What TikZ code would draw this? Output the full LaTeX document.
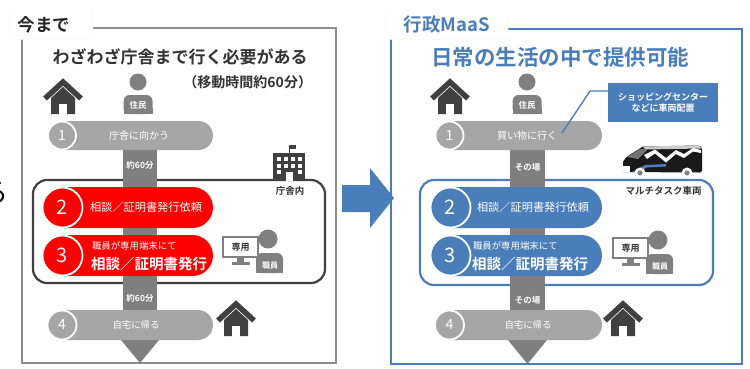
\documentclass[tikz,border=0pt]{standalone}
\usepackage{fontspec}
\setmainfont{Noto Sans CJK JP}[BoldFont={Noto Sans CJK JP Bold}]
\usetikzlibrary{shapes.misc}

\definecolor{stepgray}{HTML}{A6A6A6}
\definecolor{flowgray}{HTML}{7F7F7F}
\definecolor{icongray}{HTML}{808080}
\definecolor{housegray}{HTML}{404040}
\definecolor{inkdark}{HTML}{333333}
\definecolor{maasblue}{HTML}{4A7EBB}
\definecolor{alertred}{HTML}{FF0000}
\definecolor{framegray}{HTML}{8C8C8C}
\definecolor{tabline}{HTML}{F2F2F2}

\newcommand\pxfont[1]{\fontsize{#1}{#1}\selectfont}

\tikzset{
  pill/.style={rounded rectangle, minimum height=#1, draw=none},
  numdisc/.style={circle, draw=white, line width=1.8pt, text=white, minimum size=#1},
  steptext/.style={text=white, font=\pxfont{10}},
  flowlabel/.style={text=white, font=\bfseries\pxfont{8.5}},
  tabbox/.style={fill=white, draw=tabline, rounded corners=3pt, minimum width=#1, minimum height=29pt},
  housepic/.pic={
    \fill[housegray] (-12,34) -- (-12,18) -- (0,7) -- (12,18) -- (12,34) -- cycle;
    \draw[white, line width=2pt] (-19,21) -- (0,3.5) -- (19,21);
    \fill[white] (-4,24) rectangle (4,34.5);
    \draw[housegray, line width=5.5pt, miter limit=10] (-18,18.5) -- (0,2) -- (18,18.5);
  },
  personpic/.pic={
    \fill[icongray] (0,0) circle[radius=8.5];
    \fill[icongray, rounded corners=6pt] (-14.5,32) -- (-14.5,13) -- (14.5,13) -- (14.5,32) -- cycle;
    \fill[icongray] (-14.5,26) rectangle (14.5,32);
    \node[text=white, font=\bfseries\pxfont{8.5}] at (0,23) {\tikzpictext};
  },
  terminalpic/.pic={
    \fill[icongray] (45,2) circle[radius=9.5];
    \fill[icongray, rounded corners=6pt] (33,36) -- (33,16) -- (60,16) -- (60,36) -- cycle;
    \fill[icongray] (33,30) rectangle (60,36);
    \node[text=white, font=\bfseries\pxfont{8}] at (47,28) {職員};
    \draw[icongray, line width=2.6pt, fill=white] (0,0) rectangle (35,20);
    \fill[icongray] (14,20) rectangle (21,26);
    \fill[icongray] (9,25) rectangle (27,28);
    \node[text=inkdark, font=\bfseries\pxfont{9}] at (17.5,10) {専用};
  }
}

\begin{document}
\begin{tikzpicture}[x=1pt, y=-1pt, every node/.style={inner sep=0pt, outer sep=0pt}]
\useasboundingbox (0,0) rectangle (750,368);
\fill[white] (0,0) rectangle (750,368);

% cut-off glyph at the left edge
\node[anchor=east, text=black, font=\pxfont{27}] (edgeglyph) at (9,193) {る};

% ================= before: visiting the office =================
\draw[framegray, line width=1.3pt] (22,28) rectangle (336,363);
\node[tabbox=83pt] (tabL) at (51.5,25) {};
\node[text=black!85, font=\bfseries\pxfont{17.5}] (tabLtxt) at (44,24.5) {今まで};

\node[text=inkdark, font=\bfseries\pxfont{17}] (titleL) at (180,56.5) {わざわざ庁舎まで行く必要がある};
\node[anchor=east, text=inkdark, font=\bfseries\pxfont{14}] (subL) at (312,82) {（移動時間約60分）};

\pic at (63,80) {housepic};
\pic[pic text=住民] at (138,82) {personpic};

% office interior frame
\draw[housegray, line width=2.2pt, rounded corners=14pt] (33,180) rectangle (325,283);

% flow band and final arrow head
\fill[flowgray] (123,150) rectangle (157,340);
\fill[flowgray] (121,340) -- (159,340) -- (140,363) -- cycle;
\node[flowlabel] (dL1) at (140,165) {約60分};
\node[flowlabel] (dL2) at (140,298) {約60分};

% steps
\node[pill=29pt, fill=stepgray, minimum width=165.5pt] (sL1) at (130.25,135.5) {};
\node[numdisc=28pt, fill=stepgray, font=\pxfont{14}] (nL1) at (62,135.5) {1};
\node[steptext] (tL1) at (139,135.5) {庁舎に向かう};

\node[pill=41pt, fill=alertred, minimum width=171pt] (sL2) at (127.5,207.5) {};
\node[numdisc=40pt, fill=alertred, font=\pxfont{20}] (nL2) at (62.5,207.5) {2};
\node[anchor=west, text=white, font=\pxfont{11.2}] (tL2) at (90,207.5) {相談／証明書発行依頼};

\node[pill=41pt, fill=alertred, minimum width=171pt] (sL3) at (127.5,255.5) {};
\node[numdisc=40pt, fill=alertred, font=\pxfont{20}] (nL3) at (62.5,255.5) {3};
\node[anchor=west, text=white, font=\pxfont{9.4}] (tL3a) at (92,246) {職員が専用端末にて};
\node[anchor=west, text=white, font=\bfseries\pxfont{14.5}] (tL3b) at (91,264) {相談／証明書発行};

\node[pill=30pt, fill=stepgray, minimum width=165.5pt] (sL4) at (130.25,325) {};
\node[numdisc=29pt, fill=stepgray, font=\pxfont{14}] (nL4) at (62,325) {4};
\node[steptext, font=\pxfont{9.4}] (tL4) at (136,325) {自宅に帰る};

\pic at (236,302) {housepic};

% office building
\fill[housegray] (273,153) rectangle (305,181);
\draw[housegray, line width=1.2pt] (289.5,153) -- (289.5,145);
\fill[housegray] (289.5,145) rectangle (296,149);
\foreach \wx in {277,284,291,298}{
  \foreach \wy in {157,163.5}{ \fill[white] (\wx,\wy) rectangle ++(4,4); }
}
\fill[white] (277,170) rectangle ++(4,4);
\fill[white] (298,170) rectangle ++(4,4);
\fill[white] (285.5,172) rectangle (292.5,181);
\node[text=inkdark, font=\bfseries\pxfont{9.5}] (officeLbl) at (290,190.5) {庁舎内};

\pic at (223,237) {terminalpic};

% ================= transition arrow =================
\fill[maasblue] (342,185) -- (370,185) -- (370,168) -- (394,198) -- (370,228) -- (370,212) -- (342,212) -- cycle;

% ================= after: administrative MaaS =================
\draw[maasblue, line width=2pt] (391,29) rectangle (742,364);
\node[tabbox=123pt] (tabR) at (446.5,25) {};
\node[text=maasblue, font=\bfseries\pxfont{18.5}] (tabRtxt) at (447,24) {行政MaaS};

\node[text=maasblue, font=\bfseries\pxfont{21.5}] (titleR) at (560,57) {日常の生活の中で提供可能};

\pic at (450,80) {housepic};
\pic[pic text=住民] at (527,82) {personpic};

% vehicle interior frame
\draw[maasblue, line width=2.2pt, rounded corners=14pt] (420,180) rectangle (713,285);

\fill[flowgray] (510,150) rectangle (545,340);
\fill[flowgray] (508,340) -- (547,340) -- (527.5,364) -- cycle;
\node[flowlabel] (dR1) at (527.5,167) {その場};
\node[flowlabel] (dR2) at (527.5,300) {その場};

\node[pill=29pt, fill=stepgray, minimum width=167pt] (sR1) at (518.5,135.5) {};
\node[numdisc=28pt, fill=stepgray, font=\pxfont{14}] (nR1) at (449.5,135.5) {1};
\node[steptext] (tR1) at (527,135.5) {買い物に行く};

\node[pill=41pt, fill=maasblue, minimum width=172pt] (sR2) at (516,207.5) {};
\node[numdisc=40pt, fill=maasblue, font=\pxfont{20}] (nR2) at (450.5,207.5) {2};
\node[anchor=west, text=white, font=\pxfont{11.2}] (tR2) at (477,207.5) {相談／証明書発行依頼};

\node[pill=41pt, fill=maasblue, minimum width=172pt] (sR3) at (516,255.5) {};
\node[numdisc=40pt, fill=maasblue, font=\pxfont{20}] (nR3) at (450.5,255.5) {3};
\node[anchor=west, text=white, font=\pxfont{9.4}] (tR3a) at (473,246) {職員が専用端末にて};
\node[anchor=west, text=white, font=\bfseries\pxfont{14.5}] (tR3b) at (472,264) {相談／証明書発行};

\node[pill=30pt, fill=stepgray, minimum width=167pt] (sR4) at (518.5,325) {};
\node[numdisc=29pt, fill=stepgray, font=\pxfont{14}] (nR4) at (449.5,325) {4};
\node[steptext, font=\pxfont{9.4}] (tR4) at (528,325) {自宅に帰る};

\pic at (623,302) {housepic};

% callout
\node[fill=maasblue, minimum width=110pt, minimum height=39pt, align=center,
      text=white, font=\bfseries\pxfont{9}] (callout) at (663,102.5)
      {ショッピングセンター\\[2pt]などに車両配置};
\coordinate (callbend) at (590,91);
\coordinate (calltip) at (562,133);
\draw[maasblue, line width=1.4pt] (callout.west |- callbend) -- (callbend) -- (calltip);

% multitask vehicle (front to the left)
\begin{scope}[shift={(622,144)}]
  % body
  \fill[black!90] (1,28) -- (1,18) .. controls (2,15) and (4,13) .. (9,10) -- (21,2.5) -- (76,1.5)
        .. controls (79,1.5) and (80,3) .. (80,6) -- (80,27) -- (78,28.5) -- cycle;
  % light roof
  \fill[black!20] (21,2.5) -- (76,1.5) .. controls (78,1.5) and (79,3) .. (79,4.5) -- (23,5.5) -- cycle;
  % windshield glare
  \fill[black!55] (5,13) -- (18,5) -- (26,5) -- (16,15) -- cycle;
  % white wave livery
  \fill[white] (22,11) -- (33,5.5) -- (44,14) -- (54,6) -- (62,10) -- (71,4) -- (79,6) -- (79,9)
        -- (71,7.5) -- (62,14) -- (54,10) -- (44,18.5) -- (33,9.5) -- (25,15) -- cycle;
  % blue side stripe
  \fill[maasblue] (10,28) -- (23,21) -- (44,20) -- (44,22.5) -- (25,23.5) -- (14,28.5) -- cycle;
  % front bumper
  \fill[white] (1,21.5) rectangle (8,28);
  % wheels
  \foreach \wx in {18,65}{
    \fill[white] (\wx,29) circle[radius=5.5];
    \fill[icongray] (\wx,29) circle[radius=2.5];
  }
\end{scope}
\node[text=inkdark, font=\bfseries\pxfont{9.5}] (vanLbl) at (663.5,191) {マルチタスク車両};

\pic at (613,238) {terminalpic};

\end{tikzpicture}
\end{document}
